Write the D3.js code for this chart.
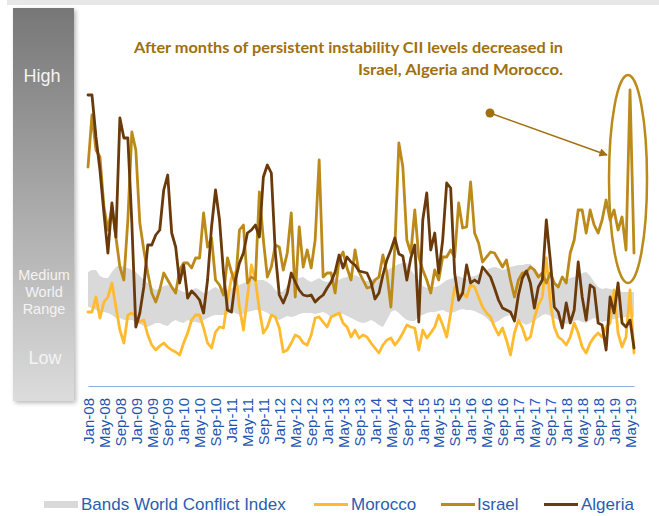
<!DOCTYPE html>
<html>
<head>
<meta charset="utf-8">
<script src="https://cdn.jsdelivr.net/npm/d3@7"></script>
<style>
html,body{margin:0;padding:0;background:#fff;}
svg{display:block;}
</style>
</head>
<body>
<div id="chart"></div>
<script>
// ---------- DATA ----------
const startYear = 2008;
const nMonths = 138; // Jan-08 .. Jun-19
const months = [];
for (let i = 0; i < nMonths; i++) months.push(new Date(startYear, i, 1));
const fmt = d3.timeFormat("%b-%y");
const categories = months.map(fmt);
const tickLabels = categories.filter((d, i) => i % 4 === 0);

const algeria = [29.1,29.1,24.9,21.6,17.3,13.3,18.3,14.9,26.8,24.8,24.8,16.3,5.9,7.3,9.9,14.1,14.1,15.1,15.6,19.6,21.1,15.3,13.9,10.3,12.1,8.8,9.5,9.1,
8.6,7.3,10.6,15.9,19.6,16.6,11.3,7.6,7.4,10.6,12.3,13.3,15.3,15.6,16.1,14.9,20.9,22.1,21.3,13.3,9.1,8.3,9.3,11.3,10.4,9.6,9.1,9.0,
9.1,8.4,8.8,9.1,9.8,10.4,11.4,13.1,11.8,12.9,12.4,12.1,11.5,11.4,11.3,10.4,8.7,9.3,11.1,12.6,13.6,14.8,13.2,13.0,10.6,12.8,14.1,
6.4,16.6,19.3,13.6,15.3,11.3,14.6,20.3,19.8,11.3,8.6,9.3,12.1,10.3,10.6,10.3,11.9,11.4,10.9,9.8,8.6,7.8,7.6,7.4,6.5,9.1,10.8,11.5,
10.3,7.8,9.9,10.6,16.6,12.6,7.9,7.4,5.8,8.3,6.3,7.6,12.4,8.9,6.6,10.1,9.8,6.3,6.1,3.6,8.9,7.3,10.3,6.3,5.9,6.6,3.8];

const israel = [21.9,27.1,23.6,22.9,17.9,15.6,17.9,14.9,11.9,10.6,16.6,25.4,23.6,16.3,13.6,11.3,9.3,8.4,9.6,11.3,10.6,9.9,9.3,11.6,12.3,12.3,11.8,12.8,
12.8,17.3,13.9,14.8,10.6,10.1,9.1,12.8,11.4,10.1,15.6,16.1,10.3,10.9,10.6,19.4,14.6,10.9,11.9,14.1,13.9,11.6,13.3,17.3,8.9,15.9,11.9,13.6,
11.8,14.6,22.6,10.9,11.3,11.3,9.3,12.6,13.4,11.8,10.6,13.6,11.4,10.6,9.8,9.9,10.6,10.9,13.1,11.3,7.9,13.9,24.3,21.9,14.6,13.3,17.6,
12.9,11.6,10.6,9.3,11.6,10.6,12.9,12.9,13.6,12.9,18.3,15.8,15.9,20.4,15.3,14.3,12.4,12.9,13.4,13.3,12.6,11.9,12.6,10.6,8.9,10.6,11.3,11.4,
11.9,11.6,10.9,11.3,10.3,11.3,10.3,9.9,10.9,10.3,13.3,14.6,17.6,17.6,15.3,17.6,16.1,15.3,16.6,18.6,16.6,17.6,15.6,16.9,13.6,29.6,13.3];

const morocco = [7.4,7.4,8.9,6.8,8.4,8.9,10.3,7.9,5.6,4.3,7.1,7.3,6.9,6.4,6.6,5.1,4.1,3.6,4.0,4.3,3.9,3.6,3.4,3.1,4.3,5.3,6.6,7.1,
7.1,5.8,4.3,3.8,5.4,5.9,5.8,8.6,10.8,11.4,7.9,5.6,8.9,12.1,10.6,7.6,5.3,5.9,7.1,6.9,5.8,3.4,3.6,4.3,5.1,4.9,4.3,4.1,
5.1,6.8,6.9,6.4,5.9,6.9,7.1,7.3,6.3,5.9,4.9,5.6,4.8,5.1,4.9,4.3,3.8,3.3,4.1,4.6,4.8,4.1,4.6,5.3,6.1,5.9,5.8,
3.6,5.6,4.8,5.3,5.9,7.1,6.1,4.9,7.3,9.9,9.1,9.3,8.9,10.1,9.9,8.9,7.9,7.3,6.9,5.9,5.1,5.8,4.6,3.1,5.3,6.6,5.8,4.6,
4.9,6.8,8.1,8.9,12.8,8.3,5.9,4.9,4.6,4.1,4.9,6.3,5.3,3.9,3.3,4.3,4.9,5.3,4.9,5.9,6.3,9.6,5.3,3.9,4.9,9.6,3.3];

const bandHigh = [11.4,11.6,11.6,11.0,10.8,10.8,11.4,11.9,12.1,11.9,11.8,11.6,11.4,11.0,10.6,10.3,9.9,9.6,9.8,10.0,10.1,9.9,9.8,9.6,9.4,9.3,9.6,9.8,
9.6,9.3,9.4,9.7,9.9,9.6,9.4,9.6,9.8,9.9,10.1,10.3,10.4,10.6,10.6,10.6,10.6,10.4,10.1,9.6,9.3,9.5,10.0,10.6,10.7,10.8,10.9,10.6,
10.4,10.6,10.8,10.5,10.4,10.6,10.8,10.6,10.8,10.9,11.0,11.1,10.9,10.6,10.5,10.6,10.8,11.0,11.3,11.5,11.8,12.0,12.2,12.3,12.3,11.6,11.1,
10.6,10.0,9.8,9.9,9.9,10.0,10.3,10.6,10.7,10.9,11.0,10.8,10.7,10.9,11.0,11.2,11.4,11.6,11.8,11.9,11.8,11.6,11.7,11.9,12.0,12.1,12.1,12.2,
12.2,11.8,11.3,10.9,10.6,10.3,10.1,10.2,10.4,10.6,10.8,10.9,11.0,11.3,11.4,11.0,10.4,9.9,9.7,9.8,9.7,9.6,9.5,9.4,9.4,9.4,9.4];

const bandLow = [7.9,7.8,7.6,7.3,7.4,7.3,7.1,6.8,6.8,6.6,6.6,6.6,6.4,6.2,6.0,5.9,6.1,6.3,6.3,6.1,6.0,6.4,6.6,6.4,6.3,6.6,6.4,6.4,
6.3,6.6,6.8,7.0,7.1,7.1,7.1,7.2,7.4,7.3,7.1,7.2,7.4,7.5,7.6,7.6,7.5,7.3,7.1,6.8,6.6,6.8,7.0,6.9,7.0,7.2,7.3,7.3,
7.3,7.2,7.3,7.4,7.2,6.9,7.0,7.1,7.2,7.0,6.8,6.6,6.4,6.3,6.4,6.6,6.4,6.1,5.9,6.6,7.4,7.6,7.3,6.9,6.6,6.5,6.5,
7.0,7.1,7.3,7.4,7.4,7.5,7.6,7.4,7.3,7.4,7.6,7.7,7.6,7.6,7.5,7.3,7.1,6.8,6.4,6.3,6.5,6.8,7.0,7.1,6.9,6.6,6.3,6.1,
6.3,6.5,6.8,7.1,7.2,7.0,6.8,6.6,6.3,6.2,6.3,6.5,6.6,6.4,6.3,6.6,6.8,6.6,6.4,6.5,6.6,6.7,6.8,6.8,6.9,6.9,6.9];

const seriesNames = ["Bands World Conflict Index", "Morocco", "Israel", "Algeria"];
const levelLabels = ["High", "Medium", "World", "Range", "Low"];
const noteLines = ["After months of persistent instability CII levels decreased in",
                   "Israel, Algeria and Morocco."];

// ---------- STYLE ----------
const C = {
  band: "#d9d9d9",
  morocco: "#FFBA2E",
  israel: "#BB8A19",
  algeria: "#6B3A0A",
  note: "#A0700E",
  axis: "#8FAADC",
  tick: "#1F55B0"
};

const W = 659, H = 516;
const svg = d3.select("#chart").append("svg").attr("width", W).attr("height", H);
const defs = svg.append("defs");

const grad = defs.append("linearGradient").attr("id", "barGrad")
  .attr("x1", 0).attr("y1", 0).attr("x2", 0).attr("y2", 1);
grad.append("stop").attr("offset", "0%").attr("stop-color", "#777777");
grad.append("stop").attr("offset", "100%").attr("stop-color", "#dcdcdc");

const sh = defs.append("filter").attr("id", "shadow").attr("x", "-20%").attr("y", "-5%").attr("width", "150%").attr("height", "115%");
sh.append("feDropShadow").attr("dx", 2).attr("dy", 2).attr("stdDeviation", 2).attr("flood-color", "#000").attr("flood-opacity", 0.28);

const ms = defs.append("marker").attr("id", "arrow").attr("viewBox", "0 0 10 10")
  .attr("refX", 9).attr("refY", 5).attr("markerWidth", 7).attr("markerHeight", 6)
  .attr("markerUnits", "strokeWidth").attr("orient", "auto");
ms.append("path").attr("d", "M0,0 L10,5 L0,10 z").attr("fill", C.note);

// top strip
svg.append("rect").attr("x", 7).attr("y", 0).attr("width", W - 7).attr("height", 5).attr("fill", "#e7e7e7");

// left level bar
svg.append("rect").attr("x", 13).attr("y", 8).attr("width", 61).attr("height", 393)
  .attr("fill", "url(#barGrad)").attr("filter", "url(#shadow)");
const lvl = svg.append("g").attr("font-family", "Liberation Sans, Arial, sans-serif").attr("fill", "#f4f4f4").attr("text-anchor", "middle");
lvl.append("text").attr("x", 42).attr("y", 82).attr("font-size", 18).text(levelLabels[0]);
lvl.append("text").attr("x", 44).attr("y", 280).attr("font-size", 14.5).text(levelLabels[1]);
lvl.append("text").attr("x", 44).attr("y", 297).attr("font-size", 14.5).text(levelLabels[2]);
lvl.append("text").attr("x", 44).attr("y", 314).attr("font-size", 14.5).text(levelLabels[3]);
lvl.append("text").attr("x", 45).attr("y", 364).attr("font-size", 18).text(levelLabels[4]);

// scales
const x = d3.scalePoint().domain(categories).range([88, 634]);
const y = d3.scaleLinear().domain([0, 32]).range([386, 66]);

// band
const bandData = categories.map((c, i) => ({c, lo: bandLow[i], hi: bandHigh[i]}));
svg.append("path").datum(bandData)
  .attr("fill", C.band)
  .attr("d", d3.area().x(d => x(d.c)).y0(d => y(d.lo)).y1(d => y(d.hi)));

// lines
const line = d3.line().x(d => x(d.c)).y(d => y(d.v));
function drawLine(vals, color) {
  svg.append("path").datum(categories.map((c, i) => ({c, v: vals[i]})))
    .attr("fill", "none").attr("stroke", color).attr("stroke-width", 2.8)
    .attr("stroke-linejoin", "round").attr("stroke-linecap", "round")
    .attr("d", line);
}
drawLine(morocco, C.morocco);
drawLine(israel, C.israel);
drawLine(algeria, C.algeria);

// axis
const ax = svg.append("g").attr("transform", "translate(0,386)")
  .call(d3.axisBottom(x).tickValues(tickLabels).tickSize(0).tickSizeOuter(0));
ax.select(".domain").attr("stroke", C.axis).attr("stroke-width", 1.2);
ax.selectAll("text")
  .attr("transform", "rotate(-90)")
  .attr("x", -12).attr("y", 0).attr("dy", "0.35em")
  .style("text-anchor", "end")
  .attr("font-family", "Liberation Sans, Arial, sans-serif")
  .attr("font-size", 15)
  .attr("fill", C.tick);

// annotation
const note = svg.append("g").attr("font-family", "Lato, 'Open Sans', sans-serif").attr("font-weight", "bold")
  .attr("font-size", 14.5).attr("fill", C.note);
note.append("text").attr("x", 134).attr("y", 53).attr("textLength", 429).attr("lengthAdjust", "spacingAndGlyphs").text(noteLines[0]);
note.append("text").attr("x", 358).attr("y", 75).attr("textLength", 205).attr("lengthAdjust", "spacingAndGlyphs").text(noteLines[1]);

svg.append("circle").attr("cx", 490).attr("cy", 113).attr("r", 4.5).attr("fill", C.note);
svg.append("line").attr("x1", 490).attr("y1", 113).attr("x2", 607).attr("y2", 155)
  .attr("stroke", C.note).attr("stroke-width", 1.4).attr("marker-end", "url(#arrow)");
svg.append("ellipse").attr("cx", 628).attr("cy", 179).attr("rx", 19).attr("ry", 104)
  .attr("fill", "none").attr("stroke", C.israel).attr("stroke-width", 2.5);

// legend
const leg = svg.append("g").attr("font-family", "Liberation Sans, Arial, sans-serif").attr("font-size", 17).attr("fill", "#2A5DB0");
leg.append("rect").attr("x", 44).attr("y", 501).attr("width", 34).attr("height", 7).attr("fill", C.band);
leg.append("text").attr("x", 81).attr("y", 510).text(seriesNames[0]);
const items = [[314, 351, C.morocco, seriesNames[1]], [441, 477, C.israel, seriesNames[2]], [544, 581, C.algeria, seriesNames[3]]];
items.forEach(([sx, tx, col, name]) => {
  leg.append("line").attr("x1", sx).attr("x2", sx + 34).attr("y1", 504.5).attr("y2", 504.5).attr("stroke", col).attr("stroke-width", 3);
  leg.append("text").attr("x", tx).attr("y", 510).text(name);
});
</script>
</body>
</html>
